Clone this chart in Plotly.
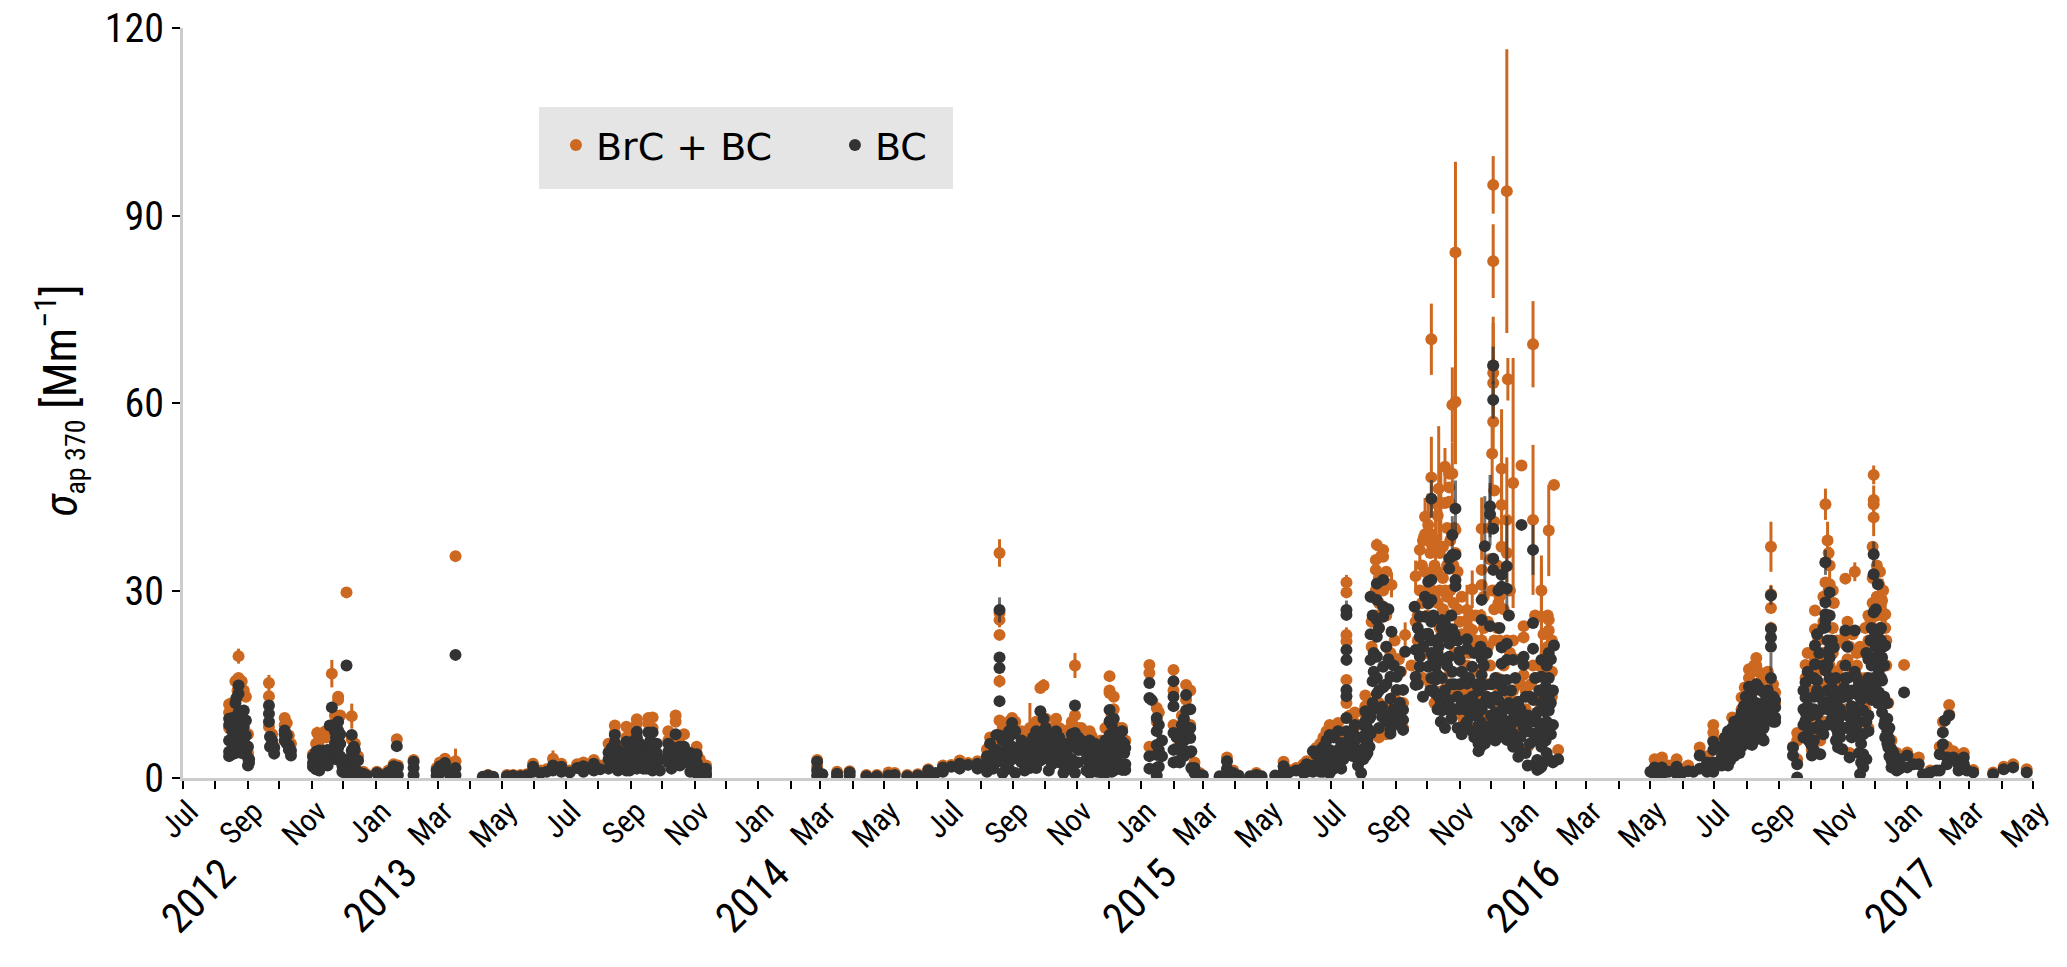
import pandas as pd
import plotly.graph_objects as go

START = pd.Timestamp("2012-07-01")
END = pd.Timestamp("2017-05-01")
NARROW = "Roboto Condensed, Liberation Sans Narrow, Arial Narrow, sans-serif"

# columns: (days since 2012-07-01, [values in Mm-1])
bc_2012 = [
 (44,[9.5,8.5,6.0,4.2,3.5]),(47,[9.6,7.5,5.5,3.8]),(49,[6.0,4.5]),(50,[12.0,9.6,7.0,5.0,4.0]),(51,[12.8]),
 (53,[14.8,13.5,10.5,7.5,5.5,4.2]),(54,[8.8,6.5]),(56,[9.0,7.0,5.0,4.0]),(58,[10.8,8.2,6.2,4.6]),(60,[9.2,6.8,5.2,4.0]),
 (62,[5.0,3.2,2.0]),(63,[3.0,2.4]),(82,[11.6,10.3,9.0]),(83,[6.6,5.0]),(85,[6.0,5.2]),(87,[4.8,3.9]),
 (97,[7.6,7.0,6.0]),(99,[6.8,5.5]),(101,[5.2,4.5]),(103,[4.4,3.6]),(124,[3.4,2.4,1.8]),(125,[3.0,2.0]),(127,[4.2,3.0,1.4]),
 (130,[4.4,3.2,2.0,1.2]),(133,[3.5]),(134,[4.4,3.2,2.3]),(138,[4.5,3.2,2.0]),(140,[8.4]),(142,[11.3,8.4]),(145,[7.5,5.5,4.0]),
 (146,[6.5,4.5,3.0]),(148,[9.0,7.6,6.0,4.8,3.6]),(150,[7.0,5.5,3.5]),(152,[2.0,1.0]),(156,[18.0,1.5,0.6]),(158,[3.0,1.5]),
 (161,[6.9,4.4,3.4,2.0,1.0]),(163,[5.0,3.0]),(164,[4.5,3.2,1.5,0.6]),
 (167,[2.8,1.0]),(172,[0.7]),(175,[0.4]),(185,[0.8]),(188,[0.5]),(193,[0.3]),(196,[0.9]),
]
bc_2013 = [
 (201,[1.9,0.8]),(204,[5.1]),(205,[1.7,0.5]),(220,[2.6,1.6,0.5]),(242,[1.2,0.4]),(245,[1.9,0.8]),(250,[2.4,1.2]),
 (255,[1.0,0.4]),(260,[19.7,1.6,0.5]),(286,[0.2]),(291,[0.3,0.4]),(296,[0.2]),(309,[0.3]),(315,[0.35]),(322,[0.3]),
 (328,[0.4]),(334,[1.8,1.0]),(341,[0.8]),(347,[1.0]),(353,[2.0,1.2]),(361,[1.8,1.0]),(369,[0.9]),(376,[1.6]),
 (382,[1.9,1.0]),(392,[2.3,1.2]),(398,[1.4]),(406,[4.1,3.0,1.5]),(409,[4.8,2.5]),(412,[6.9,5.7,3.5,2.0]),(415,[4.5,2.5,1.2]),(419,[3.5]),
 (421,[4.0,2.0]),(423,[5.8,4.0,2.5,1.2]),(426,[5.5,3.0,1.2]),(428,[4.5,2.5]),(431,[6.0,4.5,2.5]),(433,[7.4,6.5,3.5,1.5]),(436,[5.5,4.0,2.5]),
 (439,[3.0,1.5]),(442,[5.0,3.5,1.5]),(444,[7.3,4.5,2.8]),(446,[6.0,4.0,2.0]),
 (448,[7.3,5.0,3.0,1.2]),(452,[5.5,4.0,1.8]),(455,[3.0,1.2]),(463,[5.5,4.2,3.5,2.5]),(466,[5.0,3.0,1.5]),(470,[7.0,4.6,3.5,2.5]),
 (474,[5.0,3.5,2.0]),(478,[5.0,4.0,2.5]),(484,[4.0,2.5,1.0]),
 (490,[3.8,2.5,1.2,0.8]),(493,[1.7,1.0]),(499,[1.5,0.8,0.4]),
]
bc_2014 = [
 (605,[2.6,1.2,0.4]),(610,[0.6]),(624,[0.7,0.3]),(636,[0.9,0.4]),(652,[0.3]),(662,[0.3]),(673,[0.4]),(679,[0.5]),
 (691,[0.3]),(701,[0.4]),(711,[1.2,0.5]),(718,[0.8]),(725,[1.7,1.0]),(733,[1.8]),(741,[2.3,1.5]),(749,[2.1]),
 (758,[2.3,1.5]),(763,[1.8]),(767,[3.5,2.5,1.0]),(770,[5.5,3.5,2.0]),(773,[3.0,1.5]),(774,[4.2,2.8]),(776,[6.9,4.5,2.5]),
 (779,[19.3,17.6,12.3,6.8]),(782,[6.0,4.0,2.5,0.8]),(786,[5.5,4.0,2.5]),(788,[7.5,5.5,3.5,1.5]),(791,[8.8,7.0,5.0,3.0]),(794,[7.5,4.5,0.8]),(798,[5.0,3.5]),
 (800,[6.0,4.5,2.5]),(803,[5.5,3.5,1.2]),(805,[4.5,2.5]),(808,[5.5,3.5,1.6]),(811,[6.5,4.2,2.2]),(814,[7.5,5.5,3.5,1.6]),(818,[10.7,6.9,5.0,2.8]),(821,[9.5,6.5,4.0]),
 (823,[8.0,7.0,5.0]),(826,[5.5,3.0,1.2]),(829,[6.5,4.5,2.2]),(833,[7.5,5.5,3.5]),(836,[6.5,4.5,2.5]),(840,[4.5,2.2,0.8]),(844,[5.5,3.5,1.5]),(848,[7.0,5.0,3.0,1.4]),(851,[11.6,7.2,5.5,2.5,0.8]),
 (854,[6.5,4.5,2.5]),(857,[6.0,4.5]),(862,[5.0,3.0,1.2]),(865,[6.0,4.5,2.5,0.8]),(867,[5.3,3.5,1.5]),(870,[5.5,3.5,2.0]),(872,[3.0,1.0]),(876,[4.5,2.5,0.9]),(880,[6.0,4.0,2.5,0.8]),
 (884,[10.9,9.1,6.9,5.0,3.2,1.5]),(886,[8.5,6.0,4.0,2.0,1.0]),(888,[9.5,7.5,4.0,1.2]),(891,[5.5,3.0]),(893,[6.5,4.5,1.5]),(896,[7.5,5.8,4.8,1.3]),(898,[5.5,4.0]),(899,[4.8,2.2,1.3]),
]
bc_2015a = [
 (922,[15.2,12.8,3.5,1.5]),(924,[12.5]),(929,[9.6,7.5,5.3,3.7,1.6,0.4]),(931,[8.5,4.5,1.8]),(934,[6.0,3.5]),
 (945,[15.5,13.0,11.5,7.2,4.5,2.5]),(948,[6.5,2.6]),(951,[7.0,5.0,2.5]),(953,[8.5,4.0]),(955,[9.5,6.0,3.5]),(957,[13.3,10.8,8.2,6.4,4.3]),
 (961,[11.0,8.0,6.4,4.1]),(962,[4.3,1.6]),(965,[1.6,0.8]),(970,[0.5]),(973,[0.4]),(989,[0.3]),(996,[2.7,1.5,0.8]),
 (1002,[0.8,0.3]),(1007,[0.4]),(1018,[0.3]),(1024,[0.5]),(1029,[0.3]),(1042,[0.4]),(1050,[1.9,1.0,0.3]),(1055,[0.9]),
 (1062,[1.2]),(1069,[1.6,0.8]),(1072,[2.2,1.0]),(1078,[4.3,2.0,1.0]),(1081,[3.8,2.0]),(1085,[4.5,2.5,1.0]),(1088,[5.0,3.0,1.0]),(1091,[6.0,3.5,1.2]),(1094,[6.9,4.5,2.2,0.8]),
 (1098,[6.5,3.5,1.5]),(1102,[7.5,4.5,2.0]),(1105,[5.6,3.5,1.5]),(1107,[5.0,3.0]),(1110,[26.1,20.5,18.9,14.1,13.1,9.6,7.5]),(1113,[6.5,4.5]),(1116,[7.5,5.5,3.5]),(1118,[8.5,6.0,4.0]),
 (1121,[6.5,4.5,2.0]),(1124,[3.0,0.8]),(1126,[8.5,6.5,4.5,3.0]),(1128,[10.7,9.1,7.0,5.0,3.5]),(1130,[8.0,6.0,4.0]),(1132,[9.5,7.5,5.0]),
]
bc_2015b = [
 (1133,[29.0,23.0,18.9,9.8,7.1]),(1135,[26.0,15.5,12.0]),(1136,[20.0,17.0,11.0]),(1139,[31.1,28.5,25.3,22.6,19.4,16.0,13.5]),
 (1141,[24.0,14.0,8.0]),(1144,[11.4,9.8]),(1145,[31.7,27.4,25.8,17.8,14.5]),(1148,[21.0,15.0,9.0]),(1150,[27.0,19.0,10.0]),
 (1152,[16.2,12.7,7.7,7.1]),(1153,[23.4]),(1155,[18.0,11.0,8.5]),
 (1158,[16.2,14.1,10.3,9.3]),(1161,[17.0,12.0]),(1164,[14.1,10.9,9.3,7.7]),(1166,[20.2]),(1175,[27.4]),(1176,[20.5,16.2,14.9]),(1178,[24.0,15.0]),
 (1180,[25.8,22.6,19.4,17.8]),(1183,[21.0,13.0]),(1185,[29.0,25.8,23.0]),(1188,[31.4,27.9,23.1,17.8]),(1190,[22.0,18.0,14.0]),(1191,[31.7,28.5,25.0,20.0,16.0]),
 (1193,[26.0,19.0,14.0]),(1195,[22.0,17.8,15.7,13.5]),(1197,[20.0,16.5,11.0]),(1198,[21.0,18.9,13.0]),(1200,[22.5,12.0,9.0]),(1201,[25.3,24.0,16.0,10.8]),
 (1204,[24.7,19.0,14.0,8.0]),(1206,[23.0,18.0,11.0]),
 (1208,[35.1,33.5,21.5,19.4,12.5]),(1210,[26.0,15.0,9.5]),(1211,[35.7,23.8,17.0,11.0]),(1213,[23.0,15.0,11.0]),(1214,[35.7,31.7,30.7]),
 (1216,[22.0,13.0,8.0]),(1218,[20.2,18.9,15.0,11.0,7.9]),(1220,[17.0,12.0,7.0]),(1223,[15.5,11.0,8.5]),
 (1225,[22.2,20.7,15.1,12.5,9.0]),(1227,[16.0,10.5]),(1230,[17.8,13.0,10.0,7.5]),(1232,[20.0,12.0,6.5]),(1234,[15.0,11.0,7.0]),
 (1236,[14.0,10.5,8.5,5.5,4.3]),(1238,[21.0,9.0,5.0]),(1239,[28.5,25.3,19.1,16.5,11.0]),(1241,[18.0,12.0,7.5]),
 (1242,[14.9,8.2,5.5]),(1244,[20.0,13.0,6.5]),(1247,[24.3,12.0,7.0]),(1248,[15.0,10.0,8.5]),(1250,[39.9,35.1,33.3]),(1252,[16.0,13.0,10.5,8.0,6.0]),(1255,[30.0,12.5,9.8,6.5]),
 (1256,[24.0,15.0,8.0]),(1258,[32.5,30.6,20.9,18.3,15.7,10.0]),(1260,[14.0,11.5,8.5,7.0]),(1263,[30.3,21.5,18.9,15.7,9.0,6.1]),(1265,[26.0,12.0,7.5]),(1267,[14.0,11.0,8.5,6.0]),(1269,[18.9,9.5,7.1,5.0]),
 (1271,[16.0,10.0,6.0]),(1274,[12.2,10.3,5.0,3.4]),(1276,[11.0,9.0,6.5]),(1277,[40.5]),(1279,[19.4,18.1,8.0]),(1281,[13.0,9.0,4.0]),(1283,[10.0,7.5,2.0]),(1285,[13.0,9.0,5.5]),(1288,[24.8,20.7,12.5,7.1]),
 (1290,[16.0,9.0,2.2]),(1292,[10.5,9.0,6.0,2.9,1.3]),(1294,[14.0,7.5,1.5]),(1296,[18.9,16.2,12.0,8.0,5.0,1.8]),(1298,[13.5,7.0,2.5]),(1300,[14.6,12.5,10.6,8.0,6.0]),
 (1301,[18.0,9.0,4.0]),(1303,[20.0,16.0,13.0,10.8,3.0]),(1305,[19.0,12.0,7.0]),(1307,[14.0,8.5,2.5]),(1308,[21.2]),(1312,[3.0]),
]
bc_2016 = [
 (1400,[1.0]),(1404,[1.7,0.6]),(1411,[1.7,0.6]),(1417,[1.0]),(1425,[1.8,0.7]),(1431,[0.9]),(1436,[1.1]),(1441,[1.0]),
 (1447,[3.6,1.5]),(1454,[2.5,1.0]),(1460,[5.8,4.5,2.5,1.0]),(1468,[5.0,3.3,2.0]),(1471,[6.5,4.5,3.0]),(1474,[7.5,4.0,2.0]),(1476,[6.0,4.5,2.8]),(1478,[8.0,6.5,4.0]),
 (1480,[9.0,7.0,5.5,3.5]),(1482,[7.0,5.5,4.3]),(1485,[9.5,7.5,5.5,4.0]),(1487,[10.5,8.5,6.5,5.0]),(1489,[11.5,9.5,7.5,5.5]),(1491,[13.0,11.0,8.5,6.5]),(1494,[14.6,12.5,10.0,7.0,5.5]),(1496,[13.0,11.0,8.5,6.0]),
 (1497,[9.0,5.3]),(1499,[14.0,11.0,8.0,6.0]),(1501,[15.0,12.0,10.0,7.5]),(1503,[14.5,11.0,9.0,6.5]),
 (1506,[14.0,10.0,6.5]),(1508,[12.0,8.0,6.0]),(1509,[13.5,11.0,9.0]),(1512,[14.0,11.5,9.5]),(1515,[23.9,22.5,21.0]),(1517,[13.0,11.0,9.0]),(1519,[12.5,11.3,9.7,9.0]),
 (1536,[4.9,3.6]),(1540,[2.2,0.1]),(1546,[14.0,11.0,8.5,6.5]),(1548,[15.3,12.9,10.5,9.2]),(1550,[17.0,11.5,7.0]),(1551,[8.0,6.0]),(1553,[16.0,10.0,5.5]),(1554,[5.2,3.6]),(1556,[16.0,13.0,11.0,8.0,6.0,4.5]),(1557,[21.2,18.2]),
 (1559,[23.0,15.6,14.0,10.2]),(1561,[20.0,13.0,8.5]),(1562,[10.8,7.6,3.8]),(1565,[24.0,18.0,12.0,7.0]),(1567,[28.1,26.2,25.2,24.1,17.2]),(1569,[22.0,18.0,14.0,11.0,8.5]),(1571,[29.7,26.0,20.6,19.3,16.0,12.4]),
 (1573,[22.0,14.5,9.5]),(1575,[20.9,14.0,10.5]),(1577,[16.0,13.0,11.0,8.0,6.0]),(1579,[13.7,11.3,9.2,7.0,4.9]),(1581,[11.0,6.5]),(1583,[12.9,10.2,8.1,4.6]),(1585,[14.5,8.0]),(1586,[23.6,18.0,16.0]),
 (1588,[21.0,16.0,13.0,10.0,8.0]),(1590,[3.3]),(1592,[14.0,11.5,9.0,6.5]),
 (1595,[23.6,17.0,11.0,7.0]),(1597,[16.0,13.4,10.5,7.6]),(1599,[15.0,9.0,4.0]),(1600,[0.6]),(1601,[12.5,5.5,2.5]),(1603,[14.0,10.8,7.0,3.8,1.7]),(1606,[20.0,15.0,9.0,3.0]),
 (1608,[19.0,16.0,13.0,10.0,7.5]),(1610,[22.0,19.3,14.0]),(1611,[24.0,18.0,12.5]),
 (1613,[32.6,26.5,16.0]),(1615,[27.0,23.0,21.0,18.0,15.0,12.5]),(1617,[31.0,19.0,12.0]),(1618,[23.6,19.8,17.2,13.7]),(1620,[24.0,22.0,18.0,16.0,13.0]),(1621,[20.9,19.3,15.6,12.4,10.5]),(1623,[18.0,13.0,8.5]),(1624,[21.2,9.2,6.5]),
 (1626,[12.0,9.5,7.5,5.5]),(1627,[6.5,4.9]),(1628,[8.0,6.0,3.5]),(1630,[4.6,2.8,1.7]),(1632,[4.0,2.2]),(1635,[3.0,1.2]),(1638,[3.0,1.5]),(1642,[13.7]),(1645,[3.6,1.7]),(1651,[2.2]),(1656,[2.2]),
 (1660,[0.6]),(1667,[0.9]),(1673,[1.2]),(1676,[3.8,1.2]),(1679,[7.3,5.4]),(1681,[9.2]),(1683,[3.3,2.2]),(1685,[10.0]),
 (1689,[3.3]),(1694,[2.2,1.2]),(1699,[3.3,2.2]),(1702,[1.2]),(1708,[0.9]),(1727,[0.6]),(1737,[1.4]),(1746,[1.7]),(1759,[0.9]),
]
brc_2012 = [
 (44,[11.8,10.5,8.0]),(47,[12.0,6.0]),(50,[15.5,12.0]),(52,[15.8,14.0]),(53,[16.0]),(56,[15.5,10.0]),(58,[14.0,9.0]),
 (60,[13.0,7.0]),(62,[7.0,4.0]),(63,[3.0]),(82,[13.1,8.2]),(85,[7.0]),(87,[5.0]),(97,[9.6,8.5]),(99,[8.8]),(101,[6.8]),
 (103,[5.5]),(124,[3.8]),(127,[5.5]),(130,[6.0]),(137,[6.5]),(140,[7.0]),(145,[10.0]),(148,[13.0,12.5]),(150,[10.0]),
 (156,[29.7]),(161,[6.2]),(164,[5.5]),(167,[3.5]),(172,[1.0]),(175,[0.6]),(185,[1.0]),(190,[0.6]),(196,[1.2]),
]
brc_2013 = [
 (201,[2.2]),(204,[6.2]),(205,[2.0]),(220,[2.9]),(242,[1.6]),(245,[2.5]),(250,[3.1]),(255,[1.6]),(260,[35.5]),(291,[0.5]),
 (309,[0.5]),(315,[0.5]),(322,[0.5]),(328,[0.6]),(334,[2.3]),(341,[1.2]),(347,[1.4]),(361,[2.3]),(369,[1.2]),(376,[2.2]),
 (382,[2.5]),(392,[2.9]),(398,[2.0]),(406,[5.5]),(412,[8.4,7.2]),(419,[5.0]),(423,[8.2,6.5]),(428,[7.0]),(433,[8.7,9.4]),
 (439,[5.0]),(444,[9.6,8.7]),(448,[9.7,8.0]),(463,[7.5,6.0]),(470,[10.0,9.0]),(473,[6.0]),(478,[7.0]),(490,[5.0,4.0]),
 (493,[3.0]),(499,[2.0]),
]
brc_2014 = [
 (605,[2.9,1.8]),(624,[1.0]),(636,[1.1]),(652,[0.5]),(662,[0.5]),(673,[0.9]),(679,[0.8]),(691,[0.5]),(701,[0.6]),(711,[1.4]),
 (725,[2.0]),(733,[2.1]),(741,[2.8]),(749,[2.4]),(758,[2.7]),(767,[4.6]),(770,[6.5]),(773,[4.0]),(777,[5.0]),
 (779,[26.4,22.9,9.2]),(782,[8.0,6.0]),(786,[6.5]),(788,[9.0,7.0]),(791,[9.6]),(794,[9.0]),(798,[7.0]),(800,[7.5]),(803,[7.0]),(805,[6.0]),(811,[8.0]),(814,[9.0]),(818,[14.4,8.0]),(821,[9.0]),
 (823,[9.5,8.0]),(826,[7.5]),(829,[8.0]),(833,[9.5]),(836,[8.0]),(840,[6.0]),(844,[7.7]),(848,[9.0]),(851,[10.0,8.0]),(854,[8.0]),(857,[8.0]),(862,[6.5]),(865,[7.5]),(867,[6.7]),(872,[4.0]),(876,[6.0]),(880,[8.0]),
 (884,[16.3,13.6,14.0]),(886,[10.0]),(888,[13.0,11.0]),(891,[8.0]),(893,[8.0]),(896,[8.0]),(899,[6.0]),
]
brc_2015a = [
 (922,[18.1,16.8,5.0]),(929,[9.0]),(931,[10.5]),(945,[17.3,14.0,8.5]),(948,[4.8]),(953,[10.0]),(957,[14.9,12.5]),(961,[14.0,8.5]),
 (965,[2.5]),(970,[0.8]),(996,[3.3]),(1002,[1.2]),(1024,[0.8]),(1050,[2.6]),(1055,[1.3]),(1062,[1.6]),(1069,[2.2]),(1072,[2.7]),(1078,[2.7]),(1081,[4.8]),
 (1085,[5.5]),(1088,[6.5]),(1091,[7.5]),(1094,[8.5]),(1098,[8.0]),(1102,[8.8]),(1105,[7.0]),(1107,[6.5]),(1110,[29.7,21.9,15.7,12.0,9.6]),(1113,[10.0]),(1116,[9.5]),(1118,[10.5]),
 (1121,[8.5]),(1126,[10.5]),(1128,[13.2,11.5]),(1130,[10.0]),(1132,[12.0]),
]
brc_2015b = [
 (1134,[29.0,25.0,21.0]),(1138,[34.9,33.3,30.0,26.0,23.0]),(1141,[32.0,28.0,24.0,12.0,6.5]),(1143,[35.5]),(1145,[36.5,35.4,30.0]),(1148,[33.0,26.0,21.0,11.5,7.0]),(1150,[31.0]),(1152,[20.0]),(1156,[22.0,13.0]),(1158,[19.0,14.0]),(1160,[19.0,10.0]),
 (1162,[17.0,12.0]),(1164,[12.0,8.0]),(1172,[18.0]),(1176,[25.0]),(1178,[26.0,22.0]),(1180,[30.0]),(1182,[34.0,28.0]),(1183,[38.0,16.0]),(1185,[39.0,33.0]),(1187,[30.0,26.0,20.0]),(1190,[36.0,15.0]),(1191,[37.5,39.0]),
 (1192,[33.0,30.0,22.0]),(1194,[44.0,34.0,29.0,12.0]),(1197,[42.0,33.0,28.0,19.0,11.0]),(1199,[36.0,30.0,24.0,16.0]),(1202,[37.0,32.0,27.0,14.0]),
 (1204,[44.0,30.0]),(1206,[40.0,34.0,29.0,15.0]),(1208,[46.5,48.7,44.2]),(1209,[38.0,30.0,26.0,17.0]),(1211,[39.0]),(1212,[34.0,28.0,22.0,14.0]),(1213,[40.0,20.0]),(1214,[39.7,36.0]),(1216,[33.0,27.0,20.0,11.0]),(1218,[25.0]),(1220,[29.0,23.0,17.0,10.0]),(1222,[20.0,14.0,9.0]),
 (1225,[25.3,18.0,14.0]),(1227,[24.0,20.0,16.0,8.0]),(1230,[23.7,21.0,15.0]),(1233,[26.0,22.0,17.0,11.0]),(1236,[17.0,12.0]),(1238,[26.0,20.0,14.0,7.0]),(1239,[33.3,30.9]),(1241,[29.0,24.0,13.0,10.0]),(1244,[18.0,10.0]),(1245,[25.0,21.0,15.0,8.0]),(1247,[40.0,35.0,18.0]),
 (1249,[30.0,15.0,9.0]),(1251,[46.0,41.0,27.0,22.0]),(1252,[30.0,12.0]),(1254,[34.0,24.0,16.0,8.0]),
 (1255,[28.0]),(1256,[29.0,22.0,14.0]),(1258,[37.0]),(1260,[27.0,18.0,11.0]),(1263,[36.0,22.0]),(1266,[30.0,20.0,13.0,9.0]),(1269,[22.0,14.0]),(1271,[19.0,12.0,9.0]),(1274,[8.0]),(1276,[15.0,11.0]),(1277,[50.0]),(1279,[24.3,22.5,16.5]),
 (1281,[14.0,11.0,8.0]),(1283,[5.0]),(1286,[15.0,9.0]),(1288,[18.0]),(1290,[26.0,16.0,10.0]),(1294,[18.0,12.0,6.0]),(1296,[13.0]),(1298,[23.0,17.0,11.0,8.0]),(1300,[20.0]),(1302,[26.0,21.0,14.0]),(1303,[23.6,25.3]),(1306,[22.0,17.0,13.0]),(1308,[46.9]),(1312,[4.5]),
]
brc_2016 = [
 (1404,[3.0]),(1417,[2.0]),(1425,[3.0]),(1431,[1.5]),(1436,[2.0]),(1447,[4.9]),(1454,[3.5]),(1460,[8.5,7.3,6.0]),(1468,[6.0,4.5]),
 (1478,[9.7,7.0]),(1487,[12.9,11.0]),(1490,[14.5,12.0]),(1494,[17.4,16.0]),(1497,[17.0]),(1499,[18.0,15.0]),(1501,[19.2,18.0]),(1503,[17.0,15.0]),(1506,[15.6,14.0]),(1509,[15.0]),(1512,[17.0,15.0]),
 (1515,[27.2]),(1517,[15.0,13.0]),(1519,[13.7,12.0]),(1536,[5.0]),(1540,[7.2,6.0,3.0]),(1548,[18.1,16.0,11.0]),(1550,[20.0,14.0,9.0]),(1551,[10.0]),(1554,[7.2,4.5]),(1555,[14.0,10.0]),
 (1557,[26.8,23.8,19.0,6.0]),(1559,[17.0]),(1560,[22.0,18.0,14.0]),(1562,[19.0,6.0]),(1565,[29.0,25.0,20.0,15.0,9.0]),(1567,[34.5,31.3,29.0]),(1570,[36.0,30.0,26.0,17.0,11.0]),(1571,[31.0,22.0,18.0]),(1574,[30.0,24.0,20.0,12.0]),(1575,[28.0]),(1578,[22.0,17.0,10.0]),(1579,[15.0]),
 (1583,[18.0,14.0]),(1586,[31.9,21.4,23.0,11.0]),(1588,[25.0,19.0,10.5]),(1590,[21.0,4.0]),(1593,[23.0,17.0,9.0]),(1597,[20.0,18.0]),(1600,[21.0,16.0,11.0]),(1603,[12.0,9.0]),(1605,[24.0,20.0,16.0,11.0]),(1608,[26.0,22.0,13.0,8.0]),(1610,[21.0]),(1612,[37.0,32.0,28.0,15.0]),(1613,[44.5]),(1616,[34.0,29.0,26.0,18.0]),(1618,[31.0]),
 (1619,[33.0,28.0,24.0,19.0]),(1622,[30.0,26.0,21.0]),(1624,[24.0]),(1625,[22.0,18.0]),(1627,[12.0]),(1630,[6.0]),(1635,[4.0]),(1642,[18.1]),(1645,[4.1]),(1651,[3.0]),(1656,[3.3]),(1667,[1.2]),(1676,[5.0]),
 (1679,[9.0]),(1683,[5.0]),(1685,[11.7,10.2]),(1689,[4.3]),(1699,[4.0]),(1708,[1.3]),(1727,[0.9]),(1737,[1.8]),(1746,[2.2]),(1759,[1.4]),
]
# (day, value, uncertainty)
bc_spikes = [
 (779,26.9,2.0),(1110,26.9,1.5),(1191,44.7,3.0),(1211,38.9,3.0),(1214,43.1,4.5),(1242,37.1,8.0),(1247,43.5,5.0),(1247,42.2,5.0),
 (1250,66.0,3.0),(1250,60.5,3.0),(1263,33.9,8.0),(1288,36.5,4.0),(1515,29.2,1.5),(1515,16.0,4.0),(1567,34.5,2.0),(1613,35.8,2.0),
]
brc_spikes = [
 (53,19.5,1.2),(82,15.2,1.3),(128,7.2,1.0),(134,7.3,1.0),(142,16.7,2.2),(161,9.9,2.0),(260,2.7,2.0),(353,3.1,1.3),
 (779,36.0,2.2),(779,25.3,1.2),(779,15.5,1.0),(808,8.0,4.0),(821,14.8,1.0),(851,18.0,2.0),(929,11.2,1.5),
 (1110,31.3,1.2),(1110,22.9,1.2),(1139,37.3,1.0),(1153,30.9,2.0),(1166,22.9,2.0),(1176,32.3,2.5),(1180,36.5,2.5),(1185,41.8,3.0),
 (1188,40.5,5.0),(1191,48.1,6.5),(1191,70.2,5.7),(1195,38.0,6.0),(1198,46.3,10.0),(1200,44.0,6.0),(1204,49.8,3.0),
 (1211,59.7,6.0),(1211,48.7,5.0),(1214,84.1,14.5),(1214,60.2,10.0),(1225,26.9,4.0),(1230,30.2,3.0),(1239,39.9,5.0),(1239,22.0,5.0),
 (1249,51.9,6.0),(1250,94.9,4.6),(1250,82.7,5.9),(1250,66.0,7.8),(1250,64.8,8.0),(1250,63.2,6.0),(1250,57.0,5.0),
 (1258,49.5,9.5),(1258,43.7,6.0),(1263,93.9,22.7),(1263,41.3,10.0),(1264,63.8,3.4),(1269,47.2,20.0),
 (1288,69.4,6.9),(1288,41.3,12.0),(1296,30.0,5.6),(1296,25.8,8.0),(1303,39.6,7.3),
 (1411,3.3,0.6),(1515,37.0,4.0),(1515,29.4,1.5),(1515,24.0,1.0),(1569,38.0,3.0),(1567,43.8,2.5),(1571,34.0,3.0),
 (1595,33.0,1.5),(1610,25.2,3.0),(1613,48.5,1.5),(1613,43.8,3.0),(1613,41.7,3.0),(1621,28.4,3.5),(1624,26.2,3.0),
]
month_labels = ["Jul","Sep","Nov","Jan","Mar","May",
                "Jul","Sep","Nov","Jan","Mar","May",
                "Jul","Sep","Nov","Jan","Mar","May",
                "Jul","Sep","Nov","Jan","Mar","May",
                "Jul","Sep","Nov","Jan","Mar","May"]
year_labels = ["2012","2013","2014","2015","2016","2017"]
year_days = [15,188,543,913,1279,1640]
y_ticks = [0,30,60,90,120]


def flatten(*groups):
    days, vals = [], []
    for g in groups:
        for d, vs in g:
            for v in vs:
                days.append(d)
                vals.append(v)
    return days, vals


def series(groups, spikes):
    days, vals = flatten(*groups)
    errs = [0.0] * len(vals)
    for d, v, e in spikes:
        days.append(d); vals.append(v); errs.append(e)
    dates = START + pd.to_timedelta(days, unit="D")
    return dates, vals, errs


bx, by, be = series([brc_2012, brc_2013, brc_2014, brc_2015a, brc_2015b, brc_2016], brc_spikes)
kx, ky, ke = series([bc_2012, bc_2013, bc_2014, bc_2015a, bc_2015b, bc_2016], bc_spikes)

ORANGE = "#CC6820"
DARK = "#333333"

fig = go.Figure()
fig.add_trace(go.Scatter(x=bx, y=by, mode="markers", name="BrC + BC",
    marker=dict(color=ORANGE, size=12, line=dict(width=0)),
    error_y=dict(type="data", array=be, visible=True, color=ORANGE, thickness=3, width=0)))
fig.add_trace(go.Scatter(x=kx, y=ky, mode="markers", name="BC",
    marker=dict(color=DARK, size=12, line=dict(width=0)),
    error_y=dict(type="data", array=ke, visible=True, color="rgba(51,51,51,0.7)", thickness=3, width=0)))

annotations = [dict(x=START + pd.Timedelta(days=d), y=-0.157, xref="x", yref="paper", text=t,
                    textangle=-45, showarrow=False, xanchor="center", yanchor="middle",
                    font=dict(family=NARROW, size=42, color="black"))
               for t, d in zip(year_labels, year_days)]
annotations.append(dict(x=-0.067, y=0.503, xref="paper", yref="paper", xanchor="center", yanchor="middle",
    text='<i>σ</i><sub><span style="font-size:28px">ap 370</span></sub> [Mm<sup>−1</sup>]', textangle=-90, showarrow=False,
    font=dict(family=NARROW, size=46, color="black")))

all_months = list(pd.date_range(START, END, freq="MS"))
fig.update_layout(
    width=2067, height=967, autosize=False,
    margin=dict(l=183, r=34, t=28, b=189, autoexpand=False),
    paper_bgcolor="white", plot_bgcolor="white",
    showlegend=True,
    shapes=[dict(type="rect", xref="paper", yref="paper", layer="below",
                 x0=(539-183)/1850, x1=(953-183)/1850, y0=(778-189)/750, y1=(778-107)/750,
                 fillcolor="#E5E5E5", line=dict(width=0))],
    legend=dict(orientation="h", x=0.2016, y=0.8435, xanchor="left", yanchor="middle",
                bgcolor="rgba(0,0,0,0)", borderwidth=0, entrywidth=234, entrywidthmode="pixels",
                font=dict(family="DejaVu Sans", size=38, color="black"), itemsizing="constant"),
    annotations=annotations,
    xaxis=dict(type="date", range=[START, END], tickmode="array",
               tickvals=all_months[::2], ticktext=month_labels,
               tickangle=-45, ticks="outside", ticklen=8, tickwidth=2, tickcolor="black",
               ticklabelstandoff=-8, ticklabelshift=6,
               minor=dict(tickmode="array", tickvals=all_months[1::2], ticks="outside", ticklen=8, tickwidth=2, tickcolor="black", showgrid=False),
               showgrid=False, zeroline=False, showline=True, linecolor="#CCCCCC", linewidth=3,
               tickfont=dict(family=NARROW, size=31, color="black")),
    yaxis=dict(range=[0, 120], tickmode="array", tickvals=y_ticks, ticks="outside", ticklen=8, tickwidth=2,
               tickcolor="black", showgrid=False, zeroline=False, showline=True, linecolor="#CCCCCC", linewidth=3,
               tickfont=dict(family=NARROW, size=40, color="black")),
)
fig.write_html("out.html", post_script="document.body.style.margin='0';", config={"displayModeBar": False})
